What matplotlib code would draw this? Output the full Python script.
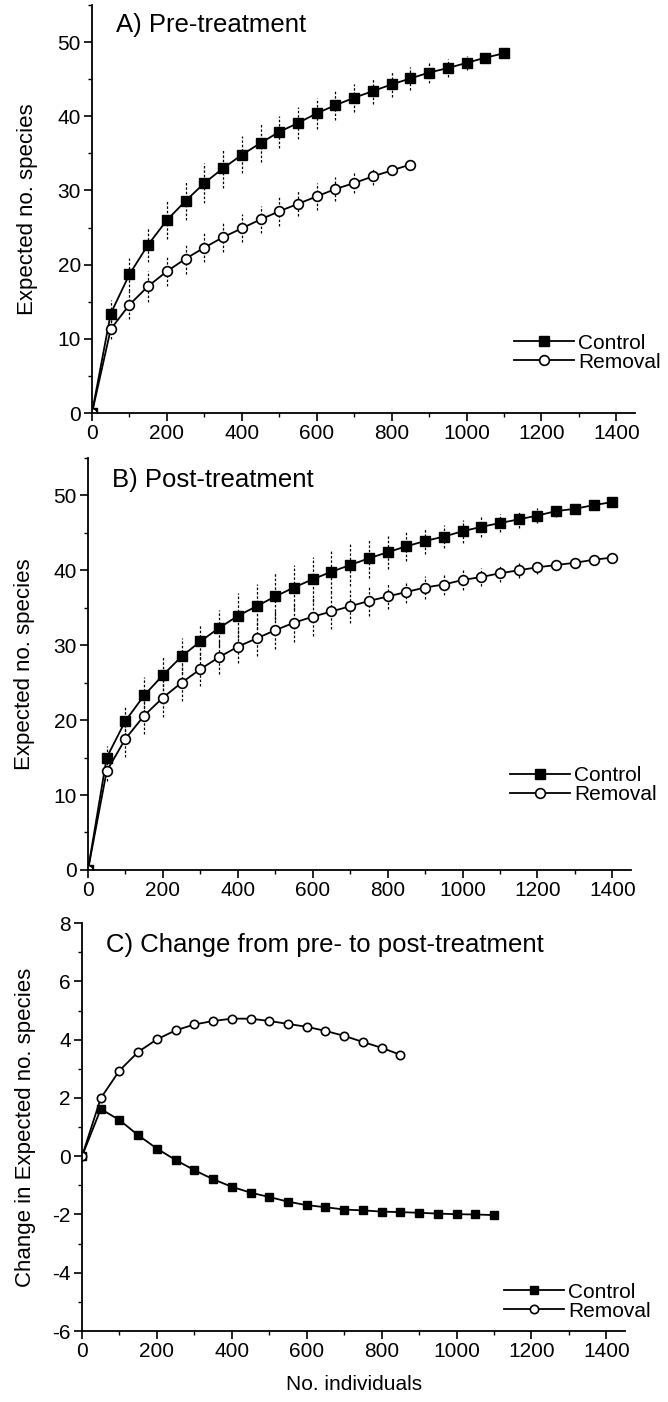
import matplotlib.pyplot as plt
from matplotlib.ticker import MultipleLocator

plt.rcParams['font.family'] = ['Liberation Sans', 'DejaVu Sans']
plt.rcParams['axes.unicode_minus'] = False

# A) pre-treatment rarefaction
n_pre_ctrl = [0, 50, 100, 150, 200, 250, 300, 350, 400, 450, 500, 550, 600, 650,
              700, 750, 800, 850, 900, 950, 1000, 1050, 1100]
pre_ctrl = [0, 13.4, 18.7, 22.7, 26.0, 28.6, 31.0, 33.0, 34.8, 36.4, 37.9, 39.1, 40.4,
            41.5, 42.5, 43.4, 44.3, 45.1, 45.9, 46.5, 47.2, 47.9, 48.5]
pre_ctrl_sd = [0, 1.8, 2.2, 2.4, 2.6, 2.6, 2.7, 2.6, 2.5, 2.5, 2.2, 2.1, 2.1, 2.0, 1.9,
               1.8, 1.7, 1.6, 1.4, 1.2, 0.9, 0.6, 0]
n_pre_rem = [0, 50, 100, 150, 200, 250, 300, 350, 400, 450, 500, 550, 600, 650, 700,
             750, 800, 850]
pre_rem = [0, 11.3, 14.6, 17.1, 19.1, 20.8, 22.3, 23.7, 24.9, 26.1, 27.2, 28.2, 29.2,
           30.2, 31.0, 31.9, 32.7, 33.5]
pre_rem_sd = [0, 1.3, 1.9, 2.1, 2.0, 2.0, 2.0, 2.0, 1.9, 1.8, 2.0, 1.7, 1.8, 1.6, 1.4,
              1.1, 0.6, 0]

# B) post-treatment rarefaction
n_post = [0, 50, 100, 150, 200, 250, 300, 350, 400, 450, 500, 550, 600, 650, 700, 750,
          800, 850, 900, 950, 1000, 1050, 1100, 1150, 1200, 1250, 1300, 1350, 1400]
post_ctrl = [0, 15.0, 19.9, 23.3, 26.0, 28.5, 30.5, 32.3, 33.9, 35.2, 36.5, 37.7, 38.8,
             39.8, 40.7, 41.6, 42.4, 43.2, 43.9, 44.5, 45.2, 45.8, 46.3, 46.8, 47.3,
             47.9, 48.2, 48.7, 49.1]
post_ctrl_sd = [0, 1.5, 2.0, 2.4, 2.6, 2.4, 2.3, 2.4, 3.0, 3.0, 3.2, 3.0, 3.0, 2.9, 2.8,
                2.6, 2.2, 1.9, 1.7, 1.5, 1.5, 1.3, 1.2, 1.1, 1.0, 0.8, 0.5, 0.3, 0]
post_rem = [0, 13.2, 17.5, 20.6, 23.0, 25.0, 26.8, 28.4, 29.8, 30.9, 32.0, 33.0, 33.8,
            34.5, 35.2, 35.9, 36.5, 37.1, 37.7, 38.1, 38.7, 39.1, 39.6, 40.0, 40.4,
            40.7, 41.0, 41.4, 41.7]
post_rem_sd = [0, 1.3, 2.4, 2.5, 2.6, 2.4, 2.3, 2.2, 2.2, 2.4, 2.5, 2.6, 2.6, 2.4, 2.2,
               2.0, 1.7, 1.5, 1.5, 1.4, 1.4, 1.2, 1.1, 1.0, 0.9, 0.7, 0.5, 0.3, 0]

# C) change pre -> post
chg_ctrl = [0, 1.62, 1.24, 0.72, 0.26, -0.13, -0.48, -0.79, -1.05, -1.25, -1.40, -1.56,
            -1.68, -1.75, -1.83, -1.86, -1.90, -1.92, -1.94, -1.97, -1.99, -2.00, -2.02]
chg_rem = [0, 1.99, 2.94, 3.58, 4.01, 4.32, 4.52, 4.64, 4.72, 4.72, 4.64, 4.54, 4.44,
           4.30, 4.13, 3.92, 3.72, 3.48]

fig = plt.figure(figsize=(6.68, 14.02), dpi=100)
axA = fig.add_axes([0.1377, 0.7054, 0.813, 0.291])
axB = fig.add_axes([0.1317, 0.3795, 0.813, 0.2939])
axC = fig.add_axes([0.1228, 0.0506, 0.813, 0.291])


def style(ax, ymaj, ymin):
    for s in ['top', 'right']:
        ax.spines[s].set_visible(False)
    for s in ['left', 'bottom']:
        ax.spines[s].set_linewidth(1.3)
    ax.set_xlim(0, 1450)
    ax.xaxis.set_major_locator(MultipleLocator(200))
    ax.xaxis.set_minor_locator(MultipleLocator(100))
    ax.yaxis.set_major_locator(MultipleLocator(ymaj))
    ax.yaxis.set_minor_locator(MultipleLocator(ymin))
    ax.tick_params(which='major', direction='out', length=6, width=1.2, labelsize=15,
                   pad=2)
    ax.tick_params(which='minor', direction='out', length=3, width=1.0)


def curves(ax, xc, yc, xr, yr, ec=None, er=None, ms=6.5, leg=0.148):
    if ec is not None:
        eb = ax.errorbar(xc, yc, yerr=ec, fmt='none', ecolor='k', elinewidth=0.9)
        eb[2][0].set_linestyle((0, (2, 1.5)))
        eb = ax.errorbar(xr, yr, yerr=er, fmt='none', ecolor='k', elinewidth=0.9)
        eb[2][0].set_linestyle((0, (2, 1.5)))
    ax.plot(xc, yc, '-', color='k', lw=1.3, marker='s', ms=ms, mfc='k', mec='k',
            label='Control')
    ax.plot(xr, yr, '-', color='k', lw=1.3, marker='o', ms=ms + 0.5, mfc='white',
            mec='k', mew=1.2, label='Removal')
    ax.legend(loc='center left', bbox_to_anchor=(0.757, leg), frameon=False,
              fontsize=15, handlelength=2.9, handletextpad=0.2, borderpad=0,
              labelspacing=0.0)


curves(axA, n_pre_ctrl, pre_ctrl, n_pre_rem, pre_rem, pre_ctrl_sd, pre_rem_sd)
style(axA, 10, 5)
axA.set_ylim(0, 55)
axA.text(0.044, 0.951, 'A) Pre-treatment', transform=axA.transAxes, fontsize=18.5,
         va='center', ha='left')
axA.set_ylabel('Expected no. species', fontsize=16, va='center')
axA.yaxis.set_label_coords(-0.118, 0.5)

curves(axB, n_post, post_ctrl, n_post, post_rem, post_ctrl_sd, post_rem_sd, leg=0.205)
style(axB, 10, 5)
axB.set_ylim(0, 55)
axB.text(0.044, 0.947, 'B) Post-treatment', transform=axB.transAxes, fontsize=18.5,
         va='center', ha='left')
axB.set_ylabel('Expected no. species', fontsize=16, va='center')
axB.yaxis.set_label_coords(-0.116, 0.5)

curves(axC, n_pre_ctrl, chg_ctrl, n_pre_rem, chg_rem, ms=5.5, leg=0.072)
style(axC, 2, 1)
axC.set_ylim(-6, 8)
axC.text(0.044, 0.946, 'C) Change from pre- to post-treatment', transform=axC.transAxes,
         fontsize=18.5, va='center', ha='left')
axC.set_ylabel('Change in Expected no. species', fontsize=16, va='center')
axC.yaxis.set_label_coords(-0.105, 0.5)
axC.set_xlabel('No. individuals', fontsize=15, labelpad=10)

fig.savefig('out.png', dpi=100)
